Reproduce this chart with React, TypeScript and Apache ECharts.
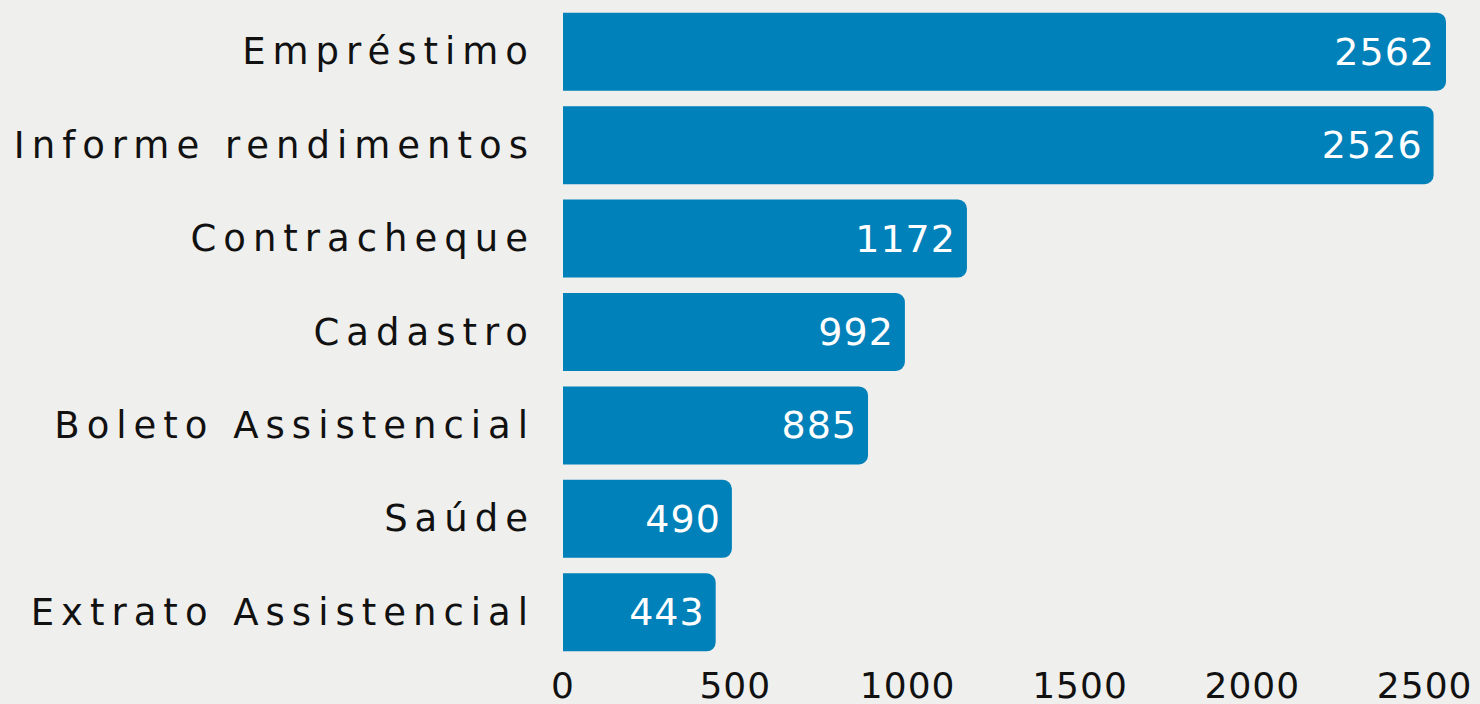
import React, { useEffect, useRef } from "react";
import * as echarts from "echarts";

const categories = [
  "Empréstimo",
  "Informe rendimentos",
  "Contracheque",
  "Cadastro",
  "Boleto Assistencial",
  "Saúde",
  "Extrato Assistencial",
];
const values = [2562, 2526, 1172, 992, 885, 490, 443];
const axisMax = 2562;
const tickInterval = 500;

const FONT = "'DejaVu Sans', Lato, sans-serif";

export default function App() {
  const ref = useRef<HTMLDivElement>(null);
  useEffect(() => {
    if (!ref.current) return;
    const chart = echarts.init(ref.current, undefined, { renderer: "svg" });
    chart.setOption({
      animation: false,
      backgroundColor: "#efefed",
      grid: { left: 563, right: 34, top: 5, bottom: 45, containLabel: false },
      xAxis: {
        type: "value",
        min: 0,
        max: axisMax,
        interval: tickInterval,
        splitLine: { show: false },
        axisLine: { show: false },
        axisTick: { show: false },
        axisLabel: {
          showMaxLabel: false,
          color: "#111",
          fontFamily: FONT,
          fontSize: 36,
          margin: 8,
          formatter: (v: number) => String(v),
        },
      },
      yAxis: {
        type: "category",
        data: categories,
        inverse: true,
        axisLine: { show: false },
        axisTick: { show: false },
        splitLine: { show: false },
        axisLabel: {
          color: "#111",
          fontFamily: FONT,
          fontSize: 37,
          margin: 28,
        },
      },
      series: [
        {
          type: "bar",
          data: values,
          barWidth: 78,
          itemStyle: { color: "#0081ba", borderRadius: [0, 9, 9, 0] },
          label: {
            show: true,
            position: "insideRight",
            distance: 11,
            color: "#ffffff",
            fontFamily: FONT,
            fontSize: 38,
          },
        },
      ],
    });
    const applySpacing = () => {
      const texts = ref.current?.querySelectorAll("text") ?? [];
      texts.forEach((t) => {
        const el = t as SVGTextElement;
        const content = el.textContent || "";
        if (categories.includes(content)) el.style.letterSpacing = "7px";
        else el.style.letterSpacing = "1px";
      });
    };
    applySpacing();
    chart.on("finished", applySpacing);
    return () => chart.dispose();
  }, []);
  return (
    <div
      ref={ref}
      style={{ position: "fixed", left: 0, top: 0, width: 1480, height: 704 }}
    />
  );
}
